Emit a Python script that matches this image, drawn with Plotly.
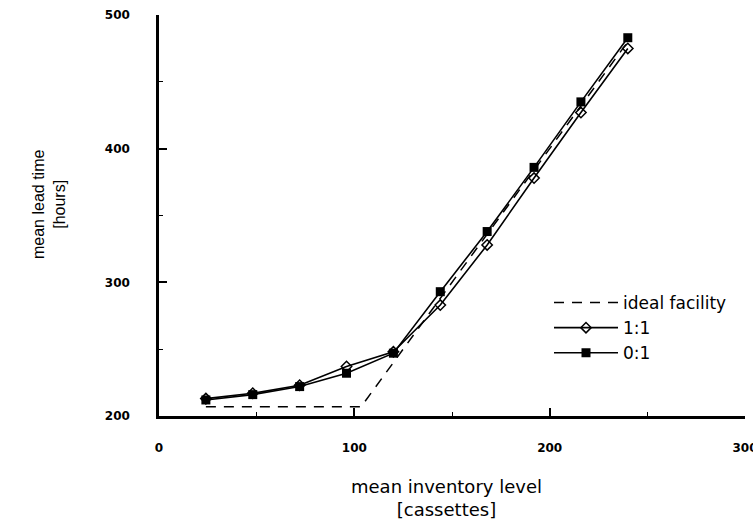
import plotly.graph_objects as go

# Mean inventory level [cassettes] at each simulated operating point
inventory = [24, 48, 72, 96, 120, 144, 168, 192, 216, 240]

# Mean lead time [hours] for the two release ratios
lead_1_1 = [213, 217, 223, 237, 248, 283, 328, 378, 427, 475]
lead_0_1 = [212, 216, 222, 232, 247, 293, 338, 386, 435, 483]

# Ideal facility: constant minimum lead time, then proportional to inventory
ideal_x = [24, 103.5, 240]
ideal_y = [207, 207, 480]

x_ticks = [0, 100, 200, 300]
y_ticks = [200, 300, 400, 500]

W, H = 753, 521
L, R, T, B = 159, 8, 15, 105

fig = go.Figure()

fig.add_trace(go.Scatter(
    x=ideal_x, y=ideal_y, mode="lines", name="ideal facility",
    line=dict(color="black", width=1.5, dash="10px,8px"),
))
fig.add_trace(go.Scatter(
    x=inventory, y=lead_1_1, mode="lines+markers", name="1:1",
    line=dict(color="black", width=1.6),
    marker=dict(symbol="diamond-open", size=8, color="black",
                line=dict(width=1.5, color="black")),
))
fig.add_trace(go.Scatter(
    x=inventory, y=lead_0_1, mode="lines+markers", name="0:1",
    line=dict(color="black", width=1.6),
    marker=dict(symbol="square", size=9, color="black"),
))

tick_font = dict(family="DejaVu Sans", size=12, color="black", weight="bold")

fig.update_xaxes(
    range=[0, 300], tickvals=x_ticks, showgrid=False, zeroline=False,
    showline=True, linecolor="black", linewidth=2.5,
    ticks="inside", ticklen=8, tickwidth=1.5, tickcolor="black",
    minor=dict(ticks="inside", ticklen=4, tickwidth=1.2, tickcolor="black", dtick=50),
    tickfont=tick_font, ticklabelstandoff=19, ticklabeloverflow="allow",
)
fig.update_yaxes(
    range=[200, 500], tickvals=y_ticks, showgrid=False, zeroline=False,
    showline=True, linecolor="black", linewidth=2.5,
    ticks="inside", ticklen=8, tickwidth=1.5, tickcolor="black",
    minor=dict(ticks="inside", ticklen=4, tickwidth=1.2, tickcolor="black", dtick=50),
    tickfont=tick_font, ticklabelstandoff=24, ticklabeloverflow="allow",
)

pw = W - L - R
ph = H - T - B

fig.add_annotation(
    text="mean inventory level<br>[cassettes]", showarrow=False,
    xref="paper", yref="paper", x=(446 - L) / pw, y=-(498 - (H - B)) / ph,
    xanchor="center", yanchor="middle",
    font=dict(family="DejaVu Sans", size=18, color="black"),
)
fig.add_annotation(
    text="mean lead time<br>[hours]", showarrow=False, textangle=-90,
    xref="paper", yref="paper", x=(49 - L) / pw, y=((H - B) - 205) / ph,
    xanchor="center", yanchor="middle",
    font=dict(family="Arial", size=16, color="black"),
)

fig.update_layout(
    width=W, height=H,
    margin=dict(l=L, r=R, t=T, b=B, autoexpand=False),
    paper_bgcolor="white", plot_bgcolor="white",
    showlegend=True,
    legend=dict(
        x=(549 - L) / pw, y=((H - B) - 285) / ph, xanchor="left", yanchor="top",
        bgcolor="rgba(0,0,0,0)", borderwidth=0, itemwidth=64,
        font=dict(family="DejaVu Sans", size=17, color="black"),
        tracegroupgap=0,
    ),
)

fig.write_html("out.html")
